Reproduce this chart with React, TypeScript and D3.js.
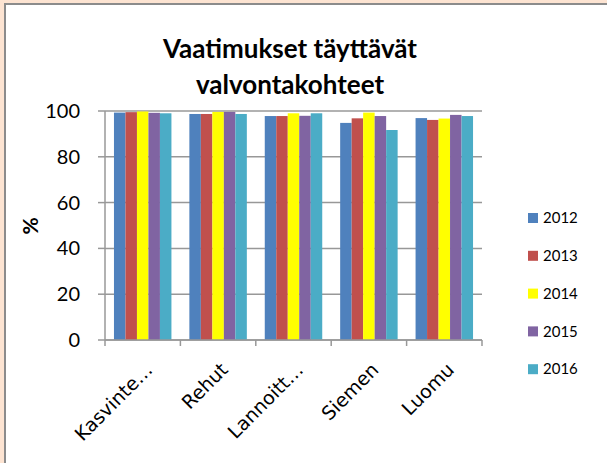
import { useEffect } from 'react';
import * as d3 from 'd3';

const categories = ['Kasvinte…', 'Rehut', 'Lannoitt…', 'Siemen', 'Luomu'];
const years = ['2012', '2013', '2014', '2015', '2016'];
const values2012 = [99.3, 98.7, 97.8, 94.8, 96.9];
const values2013 = [99.5, 98.7, 97.8, 96.8, 96.1];
const values2014 = [99.8, 99.6, 99.0, 99.3, 96.7];
const values2015 = [99.2, 99.6, 97.9, 97.8, 98.3];
const values2016 = [99.0, 98.7, 99.0, 91.7, 97.8];
const yTicks = [0, 20, 40, 60, 80, 100];

const series = [values2012, values2013, values2014, values2015, values2016];
const colors = ['#4f81bd', '#c0504d', '#ffff00', '#8064a2', '#4bacc6'];

const W = 607;
const H = 463;
const plot = { left: 105, right: 482, top: 111, bottom: 340 };

export default function App() {
    useEffect(() => {
        document.body.style.margin = '0';
    }, []);

    const x = d3.scaleBand<string>().domain(categories).range([plot.left, plot.right]);
    const xInner = d3.scaleBand<string>()
        .domain(years)
        .range([0, x.bandwidth()])
        .paddingInner(0)
        .paddingOuter(0.78);
    const y = d3.scaleLinear().domain([0, 100]).range([plot.bottom, plot.top]);

    const titleFont = 'Lato, "Open Sans", sans-serif';

    return (
        <svg width={W} height={H} style={{ display: 'block' }}>
            {/* outer frame */}
            <rect x={0} y={0} width={W} height={H} fill="#fde4d2" />
            <rect x={5} y={4} width={W + 10} height={H + 10} fill="#ffffff" stroke="#8c8c8c" strokeWidth={2} />

            {/* title */}
            <text x={290} y={58} textAnchor="middle" fontFamily={titleFont} fontWeight="bold" fontSize={26} fill="#000">
                Vaatimukset täyttävät
            </text>
            <text x={290} y={94} textAnchor="middle" fontFamily={titleFont} fontWeight="bold" fontSize={26} fill="#000">
                valvontakohteet
            </text>

            {/* gridlines */}
            {yTicks.map(t => (
                <g key={t}>
                    <line x1={plot.left} x2={plot.right} y1={y(t)} y2={y(t)} stroke="#989898" strokeWidth={1.5} />
                    <line x1={plot.left - 7} x2={plot.left} y1={y(t)} y2={y(t)} stroke="#989898" strokeWidth={1.5} />
                    <text x={plot.left - 25} y={y(t)} dy="0.35em" textAnchor="end" fontFamily={titleFont} fontSize={20} fill="#000">
                        {t}
                    </text>
                </g>
            ))}

            {/* bars */}
            {categories.map((c, ci) => (
                <g key={c} transform={`translate(${x(c)},0)`}>
                    {years.map((yr, si) => {
                        const v = series[si][ci];
                        return (
                            <rect
                                key={yr}
                                x={xInner(yr)}
                                y={y(v)}
                                width={xInner.bandwidth()}
                                height={y(0) - y(v)}
                                fill={colors[si]}
                            />
                        );
                    })}
                </g>
            ))}

            {/* axes */}
            <line x1={plot.left} x2={plot.left} y1={plot.top} y2={plot.bottom} stroke="#989898" strokeWidth={1.5} />
            <line x1={plot.left} x2={plot.right} y1={plot.bottom} y2={plot.bottom} stroke="#989898" strokeWidth={1.5} />
            {[...categories.map(c => x(c) as number), plot.right].map((px, i) => (
                <line key={i} x1={px} x2={px} y1={plot.bottom} y2={plot.bottom + 6} stroke="#989898" strokeWidth={1.5} />
            ))}

            {/* x labels */}
            {categories.map(c => {
                const cx = (x(c) as number) + x.bandwidth() / 2 + 11;
                const cy = plot.bottom + 31;
                return (
                    <text
                        key={c}
                        x={cx}
                        y={cy}
                        textAnchor="end"
                        transform={`rotate(-45,${cx},${cy})`}
                        fontFamily='"DejaVu Sans", sans-serif'
                        fontSize={19}
                        fill="#000"
                    >
                        {c}
                    </text>
                );
            })}

            {/* y axis title */}
            <text
                x={0}
                y={0}
                transform="translate(38,226) rotate(-90)"
                textAnchor="middle"
                fontFamily={titleFont}
                fontWeight="bold"
                fontSize={21}
                fill="#000"
            >
                %
            </text>

            {/* legend */}
            {years.map((yr, i) => {
                const ly = 218 + i * 37.8;
                return (
                    <g key={yr}>
                        <rect x={528} y={ly - 5} width={10} height={10} fill={colors[i]} />
                        <text x={543} y={ly} dy="0.35em" fontFamily={titleFont} fontSize={15} fill="#000">
                            {yr}
                        </text>
                    </g>
                );
            })}
        </svg>
    );
}
